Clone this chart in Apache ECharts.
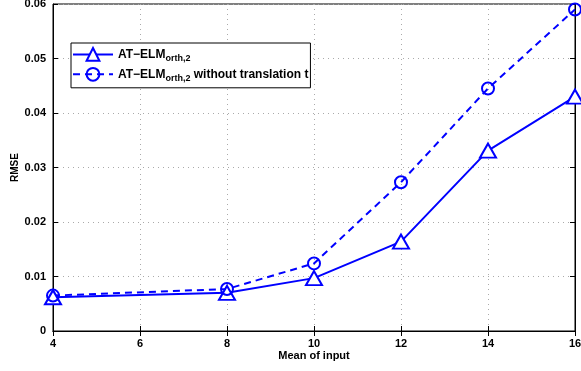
<!DOCTYPE html>
<html><head><meta charset="utf-8">
<script src="https://cdn.jsdelivr.net/npm/echarts@6/dist/echarts.min.js"></script>
<style>html,body{margin:0;padding:0;background:#fff}#c{width:581px;height:371px}</style>
</head><body><div id="c"></div>
<script>
const xValues = [4, 8, 10, 12, 14, 16];
const rmseOrth = [0.0062, 0.0070, 0.0097, 0.0164, 0.0331, 0.0430];
const rmseNoTrans = [0.0065, 0.0077, 0.0124, 0.0273, 0.0445, 0.0590];
const seriesNames = ['AT−ELM_a', 'AT−ELM_b'];
const legendLabels = {
  'AT−ELM_a': 'AT−ELM{sub|orth,2}',
  'AT−ELM_b': 'AT−ELM{sub|orth,2} without translation t'
};
const font = '"Liberation Sans", Arial, sans-serif';
const blue = '#0000ff';
const chart = echarts.init(document.getElementById('c'));
const axisCommon = {
  axisLine: {show: true, lineStyle: {color: '#000', width: 1}},
  axisTick: {show: true, inside: true, length: 5, lineStyle: {color: '#000'}},
  axisLabel: {color: '#000', fontFamily: font, fontWeight: 'bold', fontSize: 11}
};
chart.setOption({
  animation: false,
  grid: {left: 53, right: 6, top: 4, bottom: 40, show: true, borderColor: '#000', borderWidth: 1,
    containLabel: false, outerBoundsMode: 'none'},
  legend: {
    left: 71, top: 43, orient: 'vertical', itemWidth: 40, itemHeight: 16, itemGap: 4,
    backgroundColor: '#fff', borderColor: '#000', borderWidth: 1,
    padding: [4, 2, 5, 1],
    data: seriesNames,
    formatter: n => legendLabels[n],
    textStyle: {color: '#000', fontFamily: font, fontWeight: 'bold', fontSize: 12,
      rich: {sub: {fontFamily: font, fontWeight: 'bold', fontSize: 9, verticalAlign: 'bottom', padding: [8, 0, 0, 0], color: '#000'}}}
  },
  xAxis: [{
    type: 'value', min: 4, max: 16, interval: 2,
    name: 'Mean of input', nameLocation: 'middle', nameGap: 19, nameMoveOverlap: false,
    nameTextStyle: {color: '#000', fontFamily: font, fontWeight: 'bold', fontSize: 11},
    ...axisCommon,
    axisLabel: {...axisCommon.axisLabel, margin: 7},
    splitLine: {show: true, lineStyle: {color: '#aaa', type: [1, 4]}}
  }, {
    type: 'value', min: 4, max: 16, interval: 2, position: 'top',
    axisLine: {show: true, lineStyle: {color: '#000'}},
    axisTick: {show: true, inside: true, length: 5, lineStyle: {color: '#000'}},
    axisLabel: {show: false}, splitLine: {show: false}
  }],
  yAxis: [{
    type: 'value', min: 0, max: 0.06, interval: 0.01,
    name: 'RMSE', nameLocation: 'middle', nameGap: 33, nameMoveOverlap: false,
    nameTextStyle: {color: '#000', fontFamily: font, fontWeight: 'bold', fontSize: 10},
    ...axisCommon,
    axisLabel: {...axisCommon.axisLabel, margin: 7},
    splitLine: {show: true, lineStyle: {color: '#aaa', type: [1, 4]}}
  }, {
    type: 'value', min: 0, max: 0.06, interval: 0.01, position: 'right',
    axisLine: {show: true, lineStyle: {color: '#000'}},
    axisTick: {show: true, inside: true, length: 5, lineStyle: {color: '#000'}},
    axisLabel: {show: false}, splitLine: {show: false}
  }],
  series: [{
    name: seriesNames[0], type: 'line',
    data: xValues.map((x, i) => [x, rmseOrth[i]]),
    symbol: 'triangle', symbolSize: [16, 14], showAllSymbol: true,
    itemStyle: {color: '#fff', borderColor: blue, borderWidth: 2},
    lineStyle: {color: blue, width: 2}
  }, {
    name: seriesNames[1], type: 'line',
    data: xValues.map((x, i) => [x, rmseNoTrans[i]]),
    symbol: 'circle', symbolSize: 12, showAllSymbol: true,
    itemStyle: {color: 'rgba(255,255,255,0)', borderColor: blue, borderWidth: 2},
    lineStyle: {color: blue, width: 2, type: [7, 5]}
  }]
});
</script></body></html>
